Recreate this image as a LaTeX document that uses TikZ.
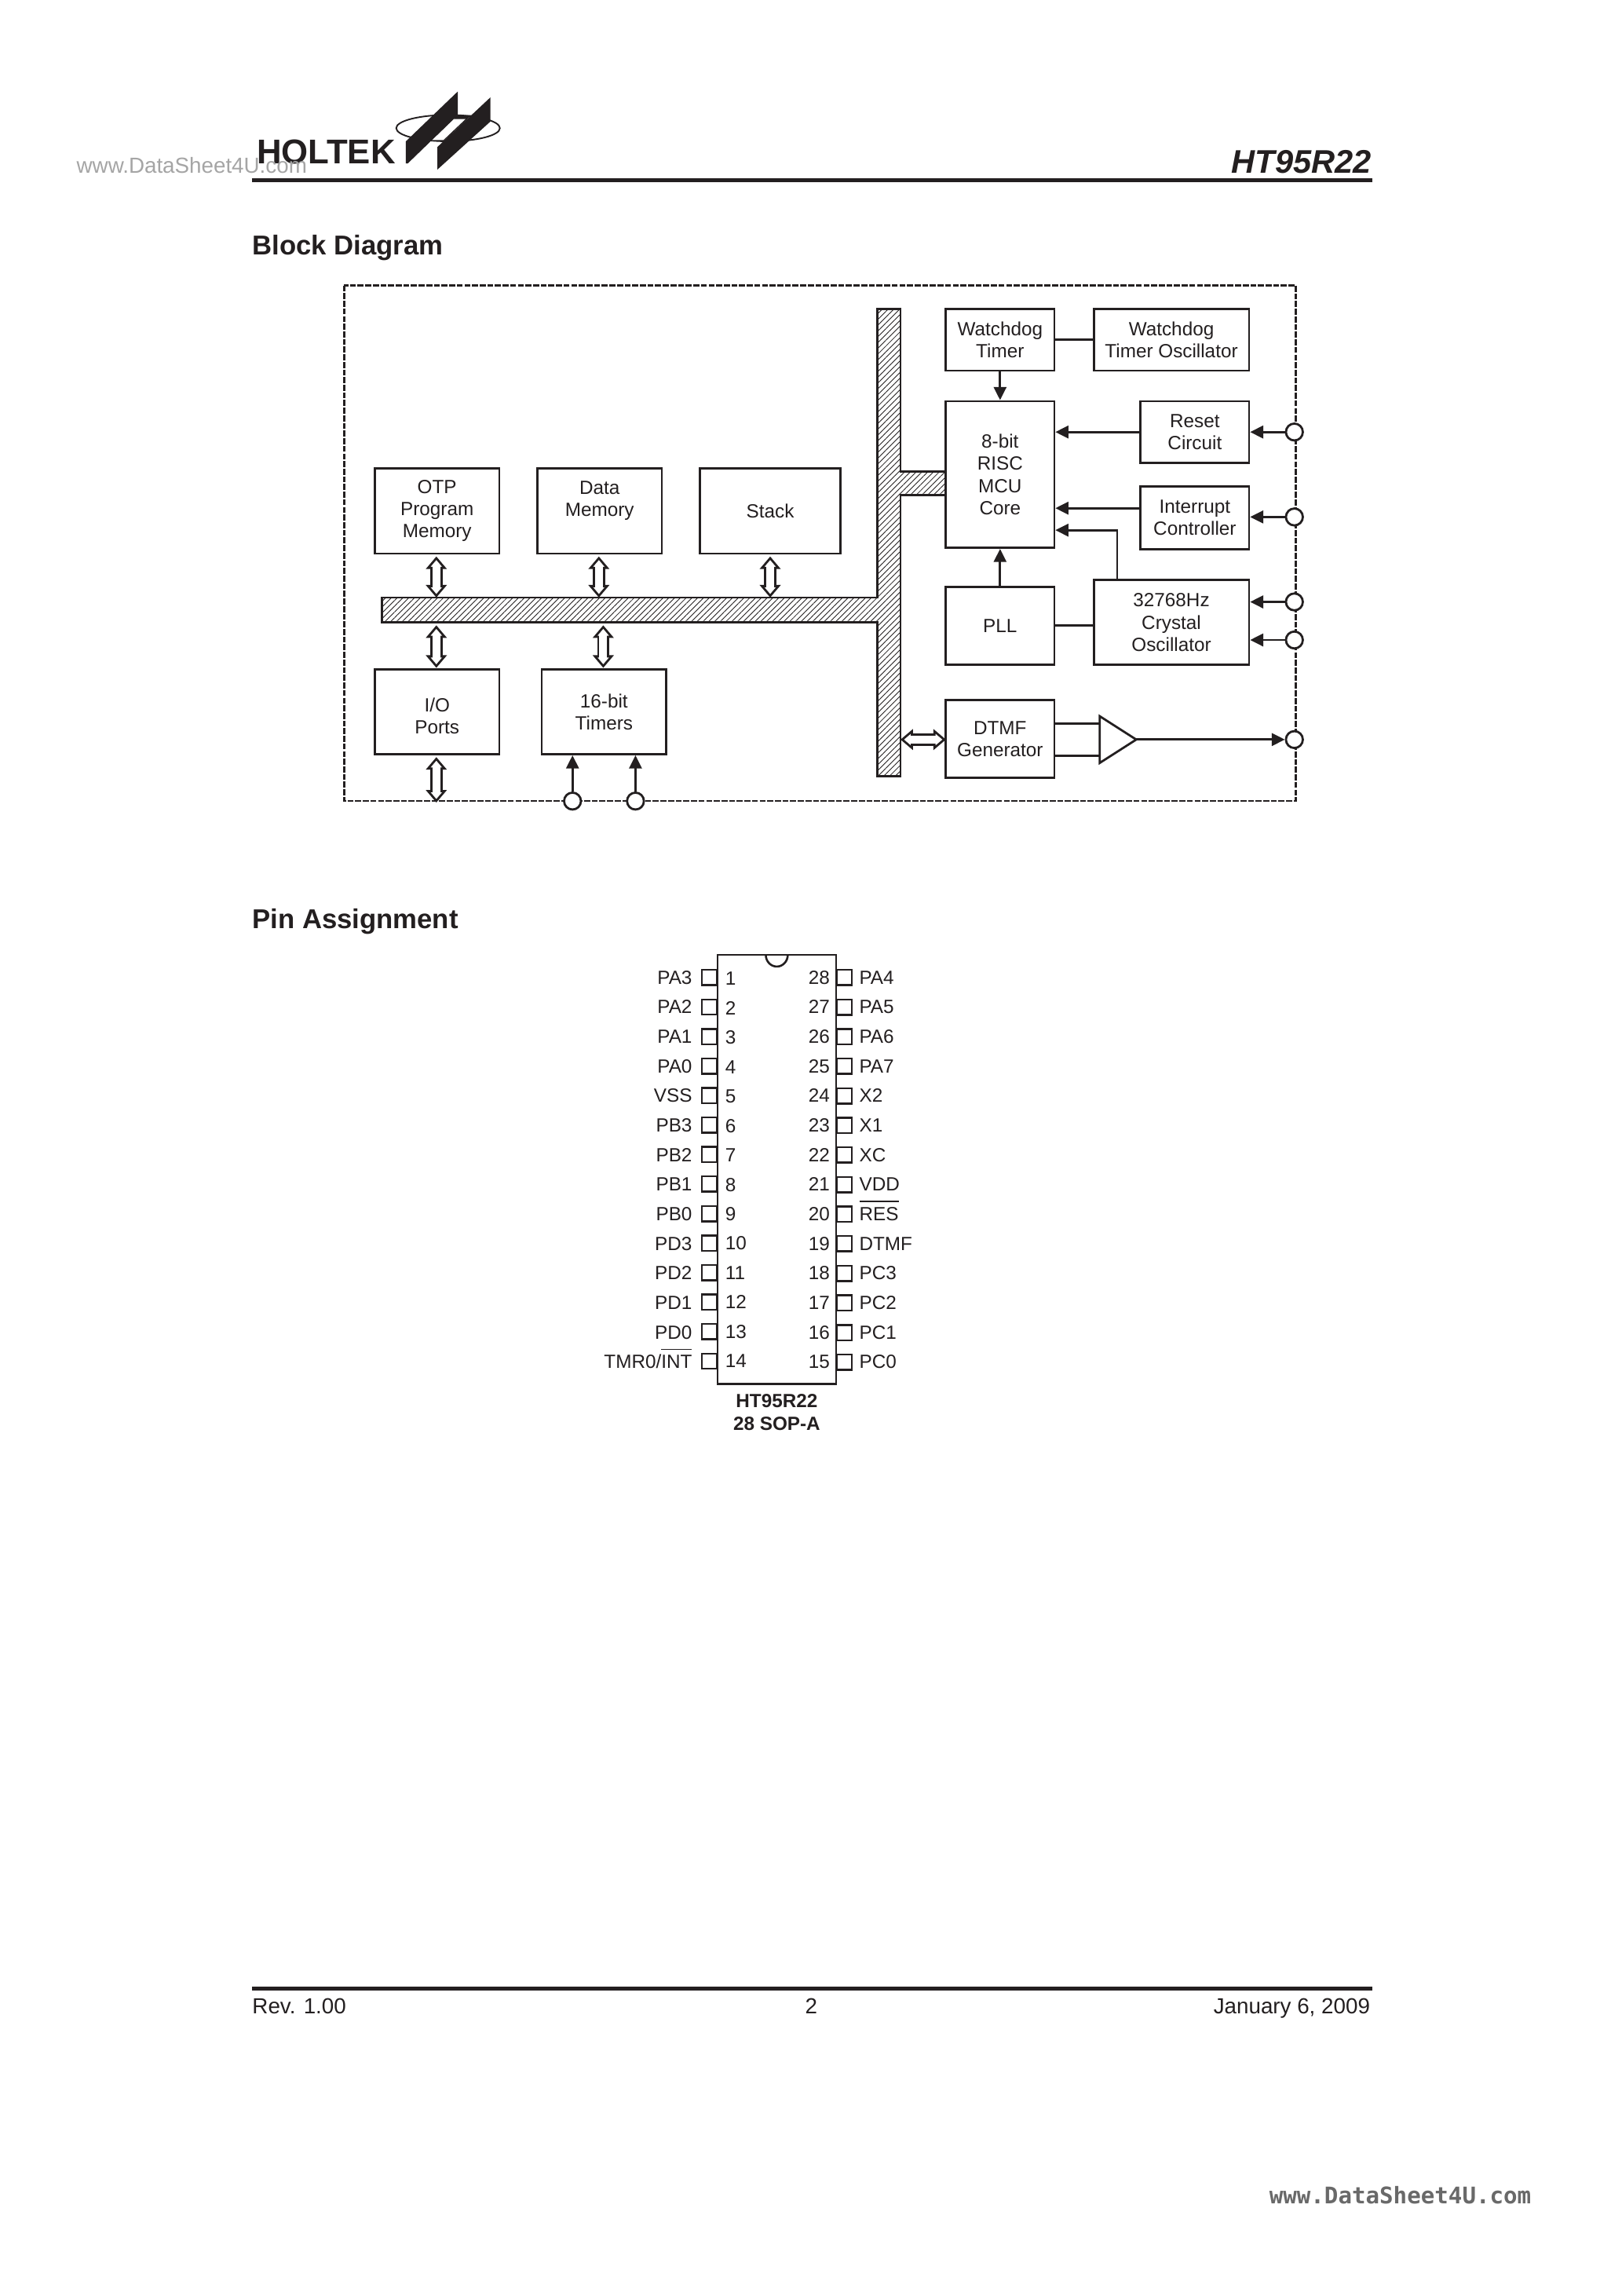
\documentclass[tikz,border=0pt]{standalone}
\usepackage{fontspec}
\setmainfont{Liberation Sans}
\newfontfamily\markfont{DejaVu Sans Mono}
\usetikzlibrary{arrows.meta,patterns.meta}
\definecolor{inkblack}{RGB}{35,31,32}
\definecolor{markgray}{RGB}{165,165,165}
\definecolor{stampgray}{RGB}{105,105,105}
\newcommand{\barred}[1]{\setbox0\hbox{#1}\rlap{\raisebox{6.8pt}{\rule{\wd0}{0.4pt}}}#1}
\tikzset{
    block/.style={draw=inkblack, line width=0.8pt, align=center, inner sep=0pt,
        font=\fontsize{7}{8.1}\selectfont, text=inkblack},
    wire/.style={draw=inkblack, line width=0.8pt},
    feed/.style={wire, -{Triangle[length=4.8pt,width=4.6pt]}},
    busarrow/.style={draw=inkblack, line width=0.8pt, double=white, double distance=2.9pt,
        {Triangle[open,length=4.6pt,width=7.6pt,line width=0.8pt]}-{Triangle[open,length=4.6pt,width=7.6pt,line width=0.8pt]},
        postaction={draw=white, -, line width=2.9pt, shorten >=3.6pt, shorten <=3.6pt}},
    pad/.style={circle, draw=inkblack, fill=white, line width=0.8pt, minimum size=6.2pt, inner sep=0pt},
    outerbox/.style={draw=inkblack, line width=0.7pt, dash pattern=on 2.2pt off 0.6pt},
    pinbox/.style={draw=inkblack, fill=white, line width=0.7pt, minimum size=5.6pt, inner sep=0pt},
    pinlabel/.style={font=\fontsize{7}{8}\selectfont, text=inkblack, inner sep=0pt, text height=5.2pt, text depth=0pt},
    heading/.style={font=\fontsize{10}{12}\selectfont\bfseries, text=inkblack, anchor=base west, inner sep=0pt},
    footer/.style={font=\fontsize{8}{10}\selectfont, text=inkblack, anchor=base, inner sep=0pt},
}
\begin{document}
\begin{tikzpicture}[x=0.5373pt, y=-0.5373pt]
\useasboundingbox (0,0) rectangle (1107.7,1567.8);
\fill[white] (0,0) rectangle (1107.7,1567.8);

% page header
\draw[inkblack, line width=0.55pt] (306,87.5) ellipse [x radius=35.4, y radius=9];
\fill[inkblack] (312.6,78.6) -- (322,78.6) -- (302.9,96.5) -- (293.4,96.5) -- cycle;
\fill[white] (309.9,81.3) -- (317.9,81.3) -- (302.8,95.6) -- (295,95.6) -- cycle;
\fill[inkblack] (312.6,62.5) -- (312.6,78.6) -- (278.5,111.6) -- (277.2,111.6) -- (277.2,96.5) -- cycle;
\fill[inkblack] (334.9,66.5) -- (334.9,83) -- (298.7,115.8) -- (298.7,100.4) -- cycle;
\node[font=\fontsize{12.6}{14}\selectfont\bfseries, text=inkblack, anchor=base west, inner sep=0pt] (logoname) at (175,112) {HOLTEK};
\node[font=\fontsize{8}{10}\selectfont, text=markgray, anchor=base west, inner sep=0pt] (mark) at (52,118) {www.DataSheet4U.com};
\node[font=\fontsize{12}{14}\selectfont\bfseries\itshape, text=inkblack, anchor=base east, inner sep=0pt] (chipname) at (937,118) {HT95R22};
\draw[inkblack, line width=1.3pt] (172,123) -- (937,123);

\node[heading] (blockhead) at (172,174) {Block Diagram};
\node[heading] (pinhead) at (172,634) {Pin Assignment};

% block diagram
\draw[outerbox] (235,195) rectangle (885,547);
\draw[wire, pattern={Lines[angle=45,distance=1.5pt,line width=0.25pt]}, pattern color=inkblack]
    (599,211) -- (615,211) -- (615,322) -- (646,322) -- (646,338) -- (615,338) -- (615,530)
    -- (599,530) -- (599,425) -- (261,425) -- (261,408) -- (599,408) -- cycle;

\node[block, minimum width=39.8pt, minimum height=22.6pt] (wdt) at (683,232) {Watchdog\\Timer};
\node[block, minimum width=57pt, minimum height=22.6pt] (wdtosc) at (800,232) {Watchdog\\Timer Oscillator};
\node[block, minimum width=39.8pt, minimum height=53.8pt] (core) at (683,324) {8-bit\\RISC\\MCU\\Core};
\node[block, minimum width=39.8pt, minimum height=22.6pt] (reset) at (816,295) {Reset\\Circuit};
\node[block, minimum width=39.8pt, minimum height=23.1pt] (intc) at (816,353.5) {Interrupt\\Controller};
\node[block, minimum width=39.8pt, minimum height=28.5pt] (pll) at (683,427.5) {PLL};
\node[block, minimum width=57pt, minimum height=31.2pt] (xtal) at (800,425) {32768Hz\\Crystal\\Oscillator};
\node[block, minimum width=39.8pt, minimum height=28.5pt] (dtmf) at (683,504.5) {DTMF\\Generator};
\node[block, minimum width=45.7pt, minimum height=31.2pt] (otp) at (298.5,349) {OTP\\Program\\Memory};
\node[block, minimum width=45.7pt, minimum height=31.2pt] (datamem) at (409.5,349) {Data\\Memory\\[1pt]};
\node[block, minimum width=51.6pt, minimum height=31.2pt] (stack) at (526,349) {Stack};
\node[block, minimum width=45.7pt, minimum height=31.2pt] (ioports) at (298.5,486) {\rule{0pt}{8pt}I/O\\Ports};
\node[block, minimum width=45.7pt, minimum height=31.2pt] (timers) at (412.5,486) {16-bit\\Timers};

% amplifier and pads
\draw[wire, fill=white] (751,489) -- (776,505) -- (751,521) -- cycle;
\coordinate (ampin1) at (751,494);
\coordinate (ampin2) at (751,516);
\coordinate (ampout) at (776,505);
\node[pad] (padreset) at (884,295) {};
\node[pad] (padint) at (884,353) {};
\node[pad] (padx1) at (884,411) {};
\node[pad] (padx2) at (884,437) {};
\node[pad] (paddtmf) at (884,505) {};
\node[pad] (padtmr1) at (391,547) {};
\node[pad] (padtmr2) at (434,547) {};

% connections
\draw[wire] (wdt) -- (wdtosc);
\draw[feed] (wdt) -- (core);
\draw[feed] (reset.west) -- (core.east |- reset.west);
\draw[feed] (intc.west |- 0,347) -- (core.east |- 0,347);
\draw[feed] (xtal.north -| 763,0) -- (763,362) -- (core.east |- 0,362);
\draw[feed] (pll) -- (core);
\draw[wire] (pll.east |- 0,427) -- (xtal.west |- 0,427);
\draw[feed] (padreset) -- (reset.east |- padreset);
\draw[feed] (padint) -- (intc.east |- padint);
\draw[feed] (padx1) -- (xtal.east |- padx1);
\draw[feed] (padx2) -- (xtal.east |- padx2);
\draw[wire] (dtmf.east |- ampin1) -- (ampin1);
\draw[wire] (dtmf.east |- ampin2) -- (ampin2);
\draw[feed] (ampout) -- (paddtmf);
\draw[feed] (padtmr1) -- (padtmr1 |- timers.south);
\draw[feed] (padtmr2) -- (padtmr2 |- timers.south);

% bus arrows
\coordinate (busotp) at (298,408);
\coordinate (busdata) at (409,408);
\coordinate (busstack) at (526,408);
\coordinate (busio) at (298,427);
\coordinate (bustimers) at (412,427);
\coordinate (busdtmf) at (615,505);
\coordinate (ioext) at (298,548);
\draw[busarrow] (298,380) -- (busotp);
\draw[busarrow] (409,380) -- (busdata);
\draw[busarrow] (526,380) -- (busstack);
\draw[busarrow] (busio) -- (298,456);
\draw[busarrow] (bustimers) -- (412,456);
\draw[busarrow] (298,517) -- (ioext);
\draw[busarrow] (busdtmf) -- (646,505);

% pin assignment
\draw[inkblack, line width=0.75pt, fill=white] (490,652) rectangle (571,945);
\draw[inkblack, line width=0.75pt] (523,652) arc[start angle=180, end angle=360, x radius=7.5, y radius=-8];
\foreach \i/\lab in {1/PA3,2/PA2,3/PA1,4/PA0,5/VSS,6/PB3,7/PB2,8/PB1,9/PB0,10/PD3,11/PD2,12/PD1,13/PD0,14/{TMR0/\barred{INT}}} {
    \node[pinbox] (pinl\i) at ({484.5},{667.5+(\i-1)*20.15}) {};
    \node[pinlabel, anchor=east] (labl\i) at ({473},{667+(\i-1)*20.2}) {\lab};
    \node[pinlabel, anchor=west] (numl\i) at ({495},{668+(\i-1)*20.08}) {\i};
}
\foreach \i/\lab in {28/PA4,27/PA5,26/PA6,25/PA7,24/X2,23/X1,22/XC,21/VDD,20/\barred{RES},19/DTMF,18/PC3,17/PC2,16/PC1,15/PC0} {
    \node[pinbox] (pinr\i) at ({576.5},{667.5+(28-\i)*20.2}) {};
    \node[pinlabel, anchor=west] (labr\i) at ({586.5},{667+(28-\i)*20.2}) {\lab};
    \node[pinlabel, anchor=east] (numr\i) at ({567},{667+(28-\i)*20.2}) {\i};
}
\node[font=\fontsize{7}{8.2}\selectfont\bfseries, text=inkblack, align=center, inner sep=0pt] (pkgname) at (530.5,964.5) {HT95R22\\28 SOP-A};

% page footer
\draw[inkblack, line width=1.3pt] (172,1358) -- (937,1358);
\node[footer, anchor=base west] (rev) at (172,1375) {Rev. 1.00};
\node[footer] (pageno) at (554,1375) {2};
\node[footer, anchor=base east] (date) at (936,1375) {January 6, 2009};
\node[font=\fontsize{8.4}{10}\selectfont\bfseries\markfont, text=stampgray, anchor=base west, inner sep=0pt] (markbottom) at (866.5,1505) {www.DataSheet4U.com};
\end{tikzpicture}
\end{document}
